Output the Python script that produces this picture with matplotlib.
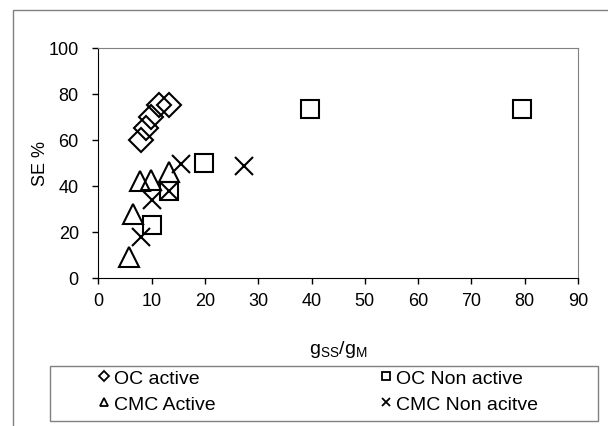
import matplotlib.pyplot as plt
from matplotlib.patches import Rectangle

plt.rcParams["font.family"] = ["Liberation Sans", "DejaVu Sans"]
plt.rcParams["mathtext.fontset"] = "custom"
plt.rcParams["mathtext.rm"] = "Liberation Sans"

# ===== dados =====
oc_act_x = [8.0, 8.9, 9.9, 11.4, 13.3]
oc_act_y = [60, 65, 70, 75, 75]
oc_non_x = [10.0, 13.3, 19.8, 39.8, 79.5]
oc_non_y = [23, 38, 50, 73.5, 73.5]
cmc_act_x = [5.8, 6.6, 7.8, 9.8, 13.3]
cmc_act_y = [9, 28, 42, 42.5, 46]
cmc_non_x = [8.0, 10.0, 13.3, 15.6, 27.3]
cmc_non_y = [18, 34, 38, 49.5, 48.5]
x_ticks = list(range(0, 91, 10))
y_ticks = list(range(0, 101, 20))
# ==================================

W, H = 608, 427
FS = 13
fig = plt.figure(figsize=(6.08, 4.27), dpi=100)
ax = fig.add_axes([98.3 / W, 1 - 279 / H, (578 - 98.3) / W, (279 - 49) / H])

kw = dict(linestyle="none", markerfacecolor="none", markeredgecolor="black",
          markeredgewidth=1.5, color="black", clip_on=False)
h1, = ax.plot(oc_act_x, oc_act_y, marker="D", markersize=12, label="OC active", **kw)
h2, = ax.plot(oc_non_x, oc_non_y, marker="s", markersize=13, label="OC Non active", **kw)
h3, = ax.plot(cmc_act_x, cmc_act_y, marker="^", markersize=14, label="CMC Active", **kw)
h4, = ax.plot(cmc_non_x, cmc_non_y, marker="x", markersize=13, label="CMC Non acitve", **kw)

ax.set_xlim(0, 90)
ax.set_ylim(0, 100)
ax.set_xticks(x_ticks)
ax.set_yticks(y_ticks)
ax.tick_params(direction="out", length=4.5, width=1, labelsize=FS)
ax.tick_params(axis="y", pad=9.5)
ax.tick_params(axis="x", pad=5.5)
for s in ["top", "right"]:
    ax.spines[s].set_color("#808080")
for s in ["left", "bottom"]:
    ax.spines[s].set_color("black")

ax.set_xlabel(r"$\mathrm{g_{SS}/g_{M}}$", fontsize=FS + 1, labelpad=21)
ax.set_ylabel("SE %", fontsize=FS, labelpad=0)

# legenda: duas colunas montadas como duas legendas sem moldura
leg_kw = dict(loc="upper left", frameon=False, fontsize=FS + 1, markerscale=0.4,
              handlelength=0.55, handletextpad=0.2, labelspacing=0.45,
              borderpad=0, borderaxespad=0)
legA = fig.legend([h1, h3], ["OC active", "CMC Active"],
                  bbox_to_anchor=(99 / W, 1 - 370 / H), **leg_kw)
legB = fig.legend([h2, h4], ["OC Non active", "CMC Non acitve"],
                  bbox_to_anchor=(381 / W, 1 - 370 / H), **leg_kw)
for lg in (legA, legB):
    for hnd in lg.legend_handles:
        hnd.set_markeredgewidth(1.3)

# moldura da legenda
fig.patches.append(Rectangle((50 / W, 1 - 422 / H), (598 - 50) / W, (422 - 367) / H,
                             transform=fig.transFigure, fill=False,
                             edgecolor="#808080", linewidth=1.0))
# borda externa da area do grafico (cortada a direita e embaixo)
fig.patches.append(Rectangle((12.7 / W, -0.2), 1.5, 1.2 - 11 / H,
                             transform=fig.transFigure, fill=False,
                             edgecolor="#808080", linewidth=1.0))

fig.savefig("out.png", dpi=100)
